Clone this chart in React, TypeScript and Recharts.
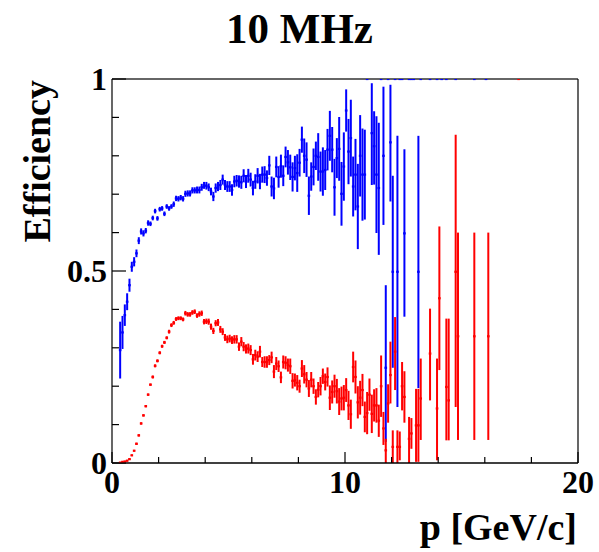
import React from "react";
import { ScatterChart, Scatter, XAxis, YAxis, ErrorBar, ReferenceLine, Label } from "recharts";

// bin centres, 0.1 GeV/c bins
const pBins = [
  0.35, 0.45, 0.55, 0.65, 0.75, 0.85, 0.95, 1.05, 1.15, 1.25,
  1.35, 1.45, 1.55, 1.65, 1.75, 1.85, 1.95, 2.05, 2.15, 2.25,
  2.35, 2.45, 2.55, 2.65, 2.75, 2.85, 2.95, 3.05, 3.15, 3.25,
  3.35, 3.45, 3.55, 3.65, 3.75, 3.85, 3.95, 4.05, 4.15, 4.25,
  4.35, 4.45, 4.55, 4.65, 4.75, 4.85, 4.95, 5.05, 5.15, 5.25,
  5.35, 5.45, 5.55, 5.65, 5.75, 5.85, 5.95, 6.05, 6.15, 6.25,
  6.35, 6.45, 6.55, 6.65, 6.75, 6.85, 6.95, 7.05, 7.15, 7.25,
  7.35, 7.45, 7.55, 7.65, 7.75, 7.85, 7.95, 8.05, 8.15, 8.25,
  8.35, 8.45, 8.55, 8.65, 8.75, 8.85, 8.95, 9.05, 9.15, 9.25,
  9.35, 9.45, 9.55, 9.65, 9.75, 9.85, 9.95, 10.05, 10.15, 10.25,
  10.35, 10.45, 10.55, 10.65, 10.75, 10.85, 10.95, 11.05, 11.15, 11.25,
  11.35, 11.45, 11.55,
];

// blue: 0.35 .. 10.85
const blueEffMain = [
  0.294, 0.34, 0.385, 0.42, 0.463, 0.511, 0.524, 0.546, 0.579, 0.603,
  0.598, 0.605, 0.625, 0.623, 0.638, 0.656, 0.637, 0.661, 0.663, 0.649,
  0.668, 0.663, 0.668, 0.674, 0.689, 0.688, 0.691, 0.688, 0.701, 0.702,
  0.702, 0.71, 0.71, 0.711, 0.711, 0.718, 0.723, 0.722, 0.718, 0.707,
  0.694, 0.716, 0.72, 0.724, 0.738, 0.724, 0.72, 0.72, 0.711, 0.733,
  0.735, 0.733, 0.731, 0.748, 0.733, 0.748, 0.738, 0.716, 0.733, 0.748,
  0.733, 0.751, 0.751, 0.742, 0.775, 0.72, 0.715, 0.771, 0.745, 0.773,
  0.748, 0.797, 0.783, 0.77, 0.745, 0.768, 0.755, 0.782, 0.842, 0.8,
  0.79, 0.696, 0.746, 0.771, 0.8, 0.797, 0.759, 0.759, 0.763, 0.816,
  0.852, 0.816, 0.718, 0.794, 0.818, 0.701, 0.772, 0.918, 0.811, 0.846,
  0.72, 0.751, 0.668, 0.8, 0.751, 0.751,
];
const blueErrMain = [
  0.074, 0.043, 0.028, 0.022, 0.017, 0.013, 0.012, 0.01, 0.009, 0.008,
  0.008, 0.007, 0.007, 0.006, 0.006, 0.006, 0.006, 0.006, 0.006, 0.006,
  0.006, 0.006, 0.006, 0.007, 0.007, 0.007, 0.007, 0.007, 0.008, 0.008,
  0.008, 0.008, 0.008, 0.009, 0.009, 0.009, 0.009, 0.01, 0.01, 0.01,
  0.012, 0.012, 0.012, 0.013, 0.013, 0.013, 0.014, 0.014, 0.015, 0.015,
  0.015, 0.016, 0.017, 0.017, 0.017, 0.018, 0.018, 0.019, 0.019, 0.02,
  0.02, 0.021, 0.022, 0.02, 0.025, 0.026, 0.028, 0.027, 0.028, 0.03,
  0.027, 0.027, 0.032, 0.033, 0.038, 0.032, 0.049, 0.036, 0.034, 0.045,
  0.045, 0.05, 0.037, 0.048, 0.037, 0.062, 0.052, 0.063, 0.052, 0.054,
  0.065, 0.059, 0.074, 0.052, 0.083, 0.083, 0.089, 0.055, 0.085, 0.1,
  0.078, 0.093, 0.111, 0.106, 0.12, 0.117,
];
const blueTailP = [
  10.95, 11.15, 11.25, 11.35, 11.45, 11.55, 11.65, 11.75, 11.85, 11.95,
  12.05, 12.15, 12.25, 12.35, 12.45, 12.55, 12.75, 12.85, 12.95, 13.15,
  13.25, 13.65, 13.95, 14.15, 14.35, 14.75, 15.55, 16.05,
];
const blueTailEff = [
  1, 0.859, 0.825, 0.751, 0.716, 1, 0.8, 0.248, 1, 0.835,
  0.498, 1, 0.498, 1, 1, 0.598, 1, 1, 1, 0.498,
  1, 1, 1, 1, 1, 1, 1, 1,
];
const blueTailLo = [
  0, 0.135, 0.1, 0.152, 0.174, 0, 0.18, 0.193, 0, 0.154,
  0.25, 0, 0.352, 0, 0, 0.217, 0, 0, 0, 0.303,
  0, 0, 0, 0, 0, 0, 0, 0,
];
const blueTailHi = [
  0, 0.13, 0.091, 0.152, 0.17, 0, 0.18, 0.215, 0, 0.15,
  0.25, 0, 0.354, 0, 0, 0.219, 0, 0, 0, 0.354,
  0, 0, 0, 0, 0, 0, 0, 0,
];

// red: 0.35 .. 11.55
const redEffMain = [
  0.001, 0.003, 0.004, 0.006, 0.01, 0.02, 0.032, 0.05, 0.072, 0.103,
  0.124, 0.148, 0.178, 0.204, 0.224, 0.253, 0.266, 0.287, 0.304, 0.314,
  0.326, 0.342, 0.359, 0.365, 0.375, 0.377, 0.377, 0.374, 0.39, 0.387,
  0.387, 0.392, 0.394, 0.384, 0.388, 0.39, 0.368, 0.369, 0.368, 0.355,
  0.344, 0.364, 0.366, 0.348, 0.342, 0.327, 0.322, 0.324, 0.32, 0.322,
  0.322, 0.303, 0.316, 0.303, 0.297, 0.298, 0.294, 0.27, 0.281, 0.277,
  0.29, 0.263, 0.263, 0.263, 0.268, 0.275, 0.238, 0.259, 0.252, 0.223,
  0.263, 0.261, 0.255, 0.252, 0.214, 0.216, 0.209, 0.2, 0.246, 0.231,
  0.217, 0.194, 0.217, 0.2, 0.172, 0.191, 0.2, 0.226, 0.211, 0.224,
  0.17, 0.185, 0.2, 0.187, 0.16, 0.168, 0.17, 0.19, 0.15, 0.127,
  0.25, 0.224, 0.158, 0.17, 0.19, 0.12, 0.13, 0.178, 0.128, 0.15,
  0.15, 0.11, 0.2,
];
const redErrMain = [
  0.001, 0.001, 0.001, 0.002, 0.002, 0.002, 0.002, 0.003, 0.003, 0.003,
  0.003, 0.003, 0.003, 0.003, 0.004, 0.004, 0.004, 0.004, 0.004, 0.004,
  0.004, 0.005, 0.005, 0.005, 0.005, 0.005, 0.005, 0.005, 0.006, 0.006,
  0.006, 0.006, 0.006, 0.006, 0.007, 0.007, 0.007, 0.007, 0.008, 0.008,
  0.008, 0.008, 0.009, 0.009, 0.009, 0.009, 0.01, 0.01, 0.01, 0.011,
  0.011, 0.011, 0.012, 0.012, 0.012, 0.013, 0.013, 0.014, 0.014, 0.014,
  0.015, 0.013, 0.015, 0.015, 0.013, 0.015, 0.017, 0.017, 0.015, 0.015,
  0.017, 0.017, 0.017, 0.02, 0.02, 0.017, 0.02, 0.017, 0.022, 0.024,
  0.02, 0.022, 0.02, 0.02, 0.02, 0.02, 0.024, 0.02, 0.022, 0.025,
  0.032, 0.03, 0.03, 0.032, 0.035, 0.031, 0.033, 0.031, 0.038, 0.038,
  0.04, 0.043, 0.042, 0.044, 0.042, 0.04, 0.055, 0.042, 0.05, 0.042,
  0.045, 0.042, 0.08,
];
const redTailP = [
  11.65, 11.75, 11.85, 11.95, 12.05, 12.15, 12.25, 12.35, 12.45, 12.55,
  12.75, 12.85, 13.05, 13.15, 13.25, 13.65, 13.95, 14.05, 14.35, 14.45,
  14.75, 14.85, 15.55, 16.15, 17.45,
];
const redTailEff = [
  0.09, 0.033, 0.155, 0.229, 0.042, 0.29, 0.042, 0.042, 0.2, 0.172,
  0.063, 0.077, 0.098, 0.098, 0.168, 0.285, 0.142, 0.429, 0.198, 0.163,
  0.498, 0.33, 0.33, 0.33, 1,
];
const redTailLo = [
  0.043, 0.033, 0.05, 0.074, 0.042, 0.1, 0.042, 0.035, 0.063, 0.067,
  0.063, 0.04, 0.095, 0.095, 0.108, 0.122, 0.135, 0.187, 0.139, 0.104,
  0.352, 0.27, 0.27, 0.27, 0,
];
const redTailHi = [
  0.043, 0.03, 0.05, 0.087, 0.043, 0.09, 0.043, 0.04, 0.063, 0.067,
  0.057, 0.04, 0.095, 0.095, 0.104, 0.117, 0.13, 0.187, 0.178, 0.213,
  0.357, 0.27, 0.27, 0.27, 0,
];

const xTicks = [0, 2, 4, 6, 8, 10, 12, 14, 16, 18, 20];
const yTicks = [0, 0.1, 0.2, 0.3, 0.4, 0.5, 0.6, 0.7, 0.8, 0.9, 1];
const xMajor = [0, 10, 20];
const yMajor = [0, 0.5, 1];

const FONT = "'Liberation Serif', 'DejaVu Serif', serif";

function build(p: number[], eff: number[], lo: number[], hi: number[]) {
  return p.map((v, i) => ({ p: v, eff: eff[i], err: [lo[i], hi[i]] }));
}

const blueData = build(
  [...pBins.slice(0, 106), ...blueTailP],
  [...blueEffMain, ...blueTailEff],
  [...blueErrMain, ...blueTailLo],
  [...blueErrMain, ...blueTailHi]
);
const redData = build(
  [...pBins, ...redTailP],
  [...redEffMain, ...redTailEff],
  [...redErrMain, ...redTailLo],
  [...redErrMain, ...redTailHi]
);

function XTick({ x, y, payload }: any) {
  const major = xMajor.includes(payload.value);
  return (
    <g>
      <line x1={x} x2={x} y1={y} y2={y - (major ? 11 : 6)} stroke="#000" strokeWidth={1.2} />
      {major && (
        <text x={x} y={y + 30} textAnchor="middle" fontFamily={FONT} fontWeight="bold" fontSize={32} fill="#000">
          {payload.value}
        </text>
      )}
    </g>
  );
}

function YTick({ x, y, payload }: any) {
  const major = yMajor.includes(payload.value);
  return (
    <g>
      <line x1={x} x2={x + (major ? 14 : 7)} y1={y} y2={y} stroke="#000" strokeWidth={1.2} />
      {major && (
        <text x={x - 5} y={y + 11} textAnchor="end" fontFamily={FONT} fontWeight="bold" fontSize={32} fill="#000">
          {payload.value}
        </text>
      )}
    </g>
  );
}

const marker = (color: string) => (props: any) =>
  <rect x={props.cx - 1.3} y={props.cy - 1.1} width={2.6} height={2.2} fill={color} />;

export default function App() {
  return (
    <div style={{ position: "absolute", left: 0, top: 0, width: 599, height: 552, background: "#fff" }}>
      <div
        style={{
          position: "absolute", left: 0, top: 7, width: 599, textAlign: "center",
          fontFamily: FONT, fontWeight: "bold", fontSize: 43, lineHeight: "43px", color: "#000",
        }}
      >
        10 MHz
      </div>
      <ScatterChart width={599} height={552} margin={{ top: 79, right: 21, bottom: 49, left: 52 }}>
        <XAxis
          type="number"
          dataKey="p"
          domain={[0, 20]}
          ticks={xTicks}
          interval={0}
          allowDataOverflow
          height={40}
          tickSize={0}
          tickMargin={0}
          tickLine={false}
          tick={<XTick />}
          axisLine={{ stroke: "#000", strokeWidth: 1.5 }}
        >
          <Label
            content={() => (
              <text x={577} y={540} textAnchor="end" fontFamily={FONT} fontWeight="bold" fontSize={38} fill="#000">
                p [GeV/c]
              </text>
            )}
          />
        </XAxis>
        <YAxis
          type="number"
          dataKey="eff"
          domain={[0, 1]}
          ticks={yTicks}
          interval={0}
          allowDataOverflow
          width={60}
          tickSize={0}
          tickMargin={0}
          tickLine={false}
          tick={<YTick />}
          axisLine={{ stroke: "#000", strokeWidth: 1.2 }}
        >
          <Label
            content={() => (
              <text
                x={50}
                y={80}
                transform="rotate(-90, 50, 80)"
                textAnchor="end"
                fontFamily={FONT}
                fontWeight="bold"
                fontSize={38}
                fill="#000"
              >
                Efficiency
              </text>
            )}
          />
        </YAxis>
        <ReferenceLine y={1} stroke="#333" strokeWidth={1.5} />
        <ReferenceLine x={20} stroke="#000" strokeWidth={1.2} />
        <Scatter data={blueData} fill="#0000ff" shape={marker("#0000ff")} isAnimationActive={false}>
          <ErrorBar dataKey="err" direction="y" width={0} stroke="#0000ff" strokeWidth={2} isAnimationActive={false} />
        </Scatter>
        <Scatter data={redData} fill="#ff0000" shape={marker("#ff0000")} isAnimationActive={false}>
          <ErrorBar dataKey="err" direction="y" width={0} stroke="#ff0000" strokeWidth={2} isAnimationActive={false} />
        </Scatter>
      </ScatterChart>
    </div>
  );
}
